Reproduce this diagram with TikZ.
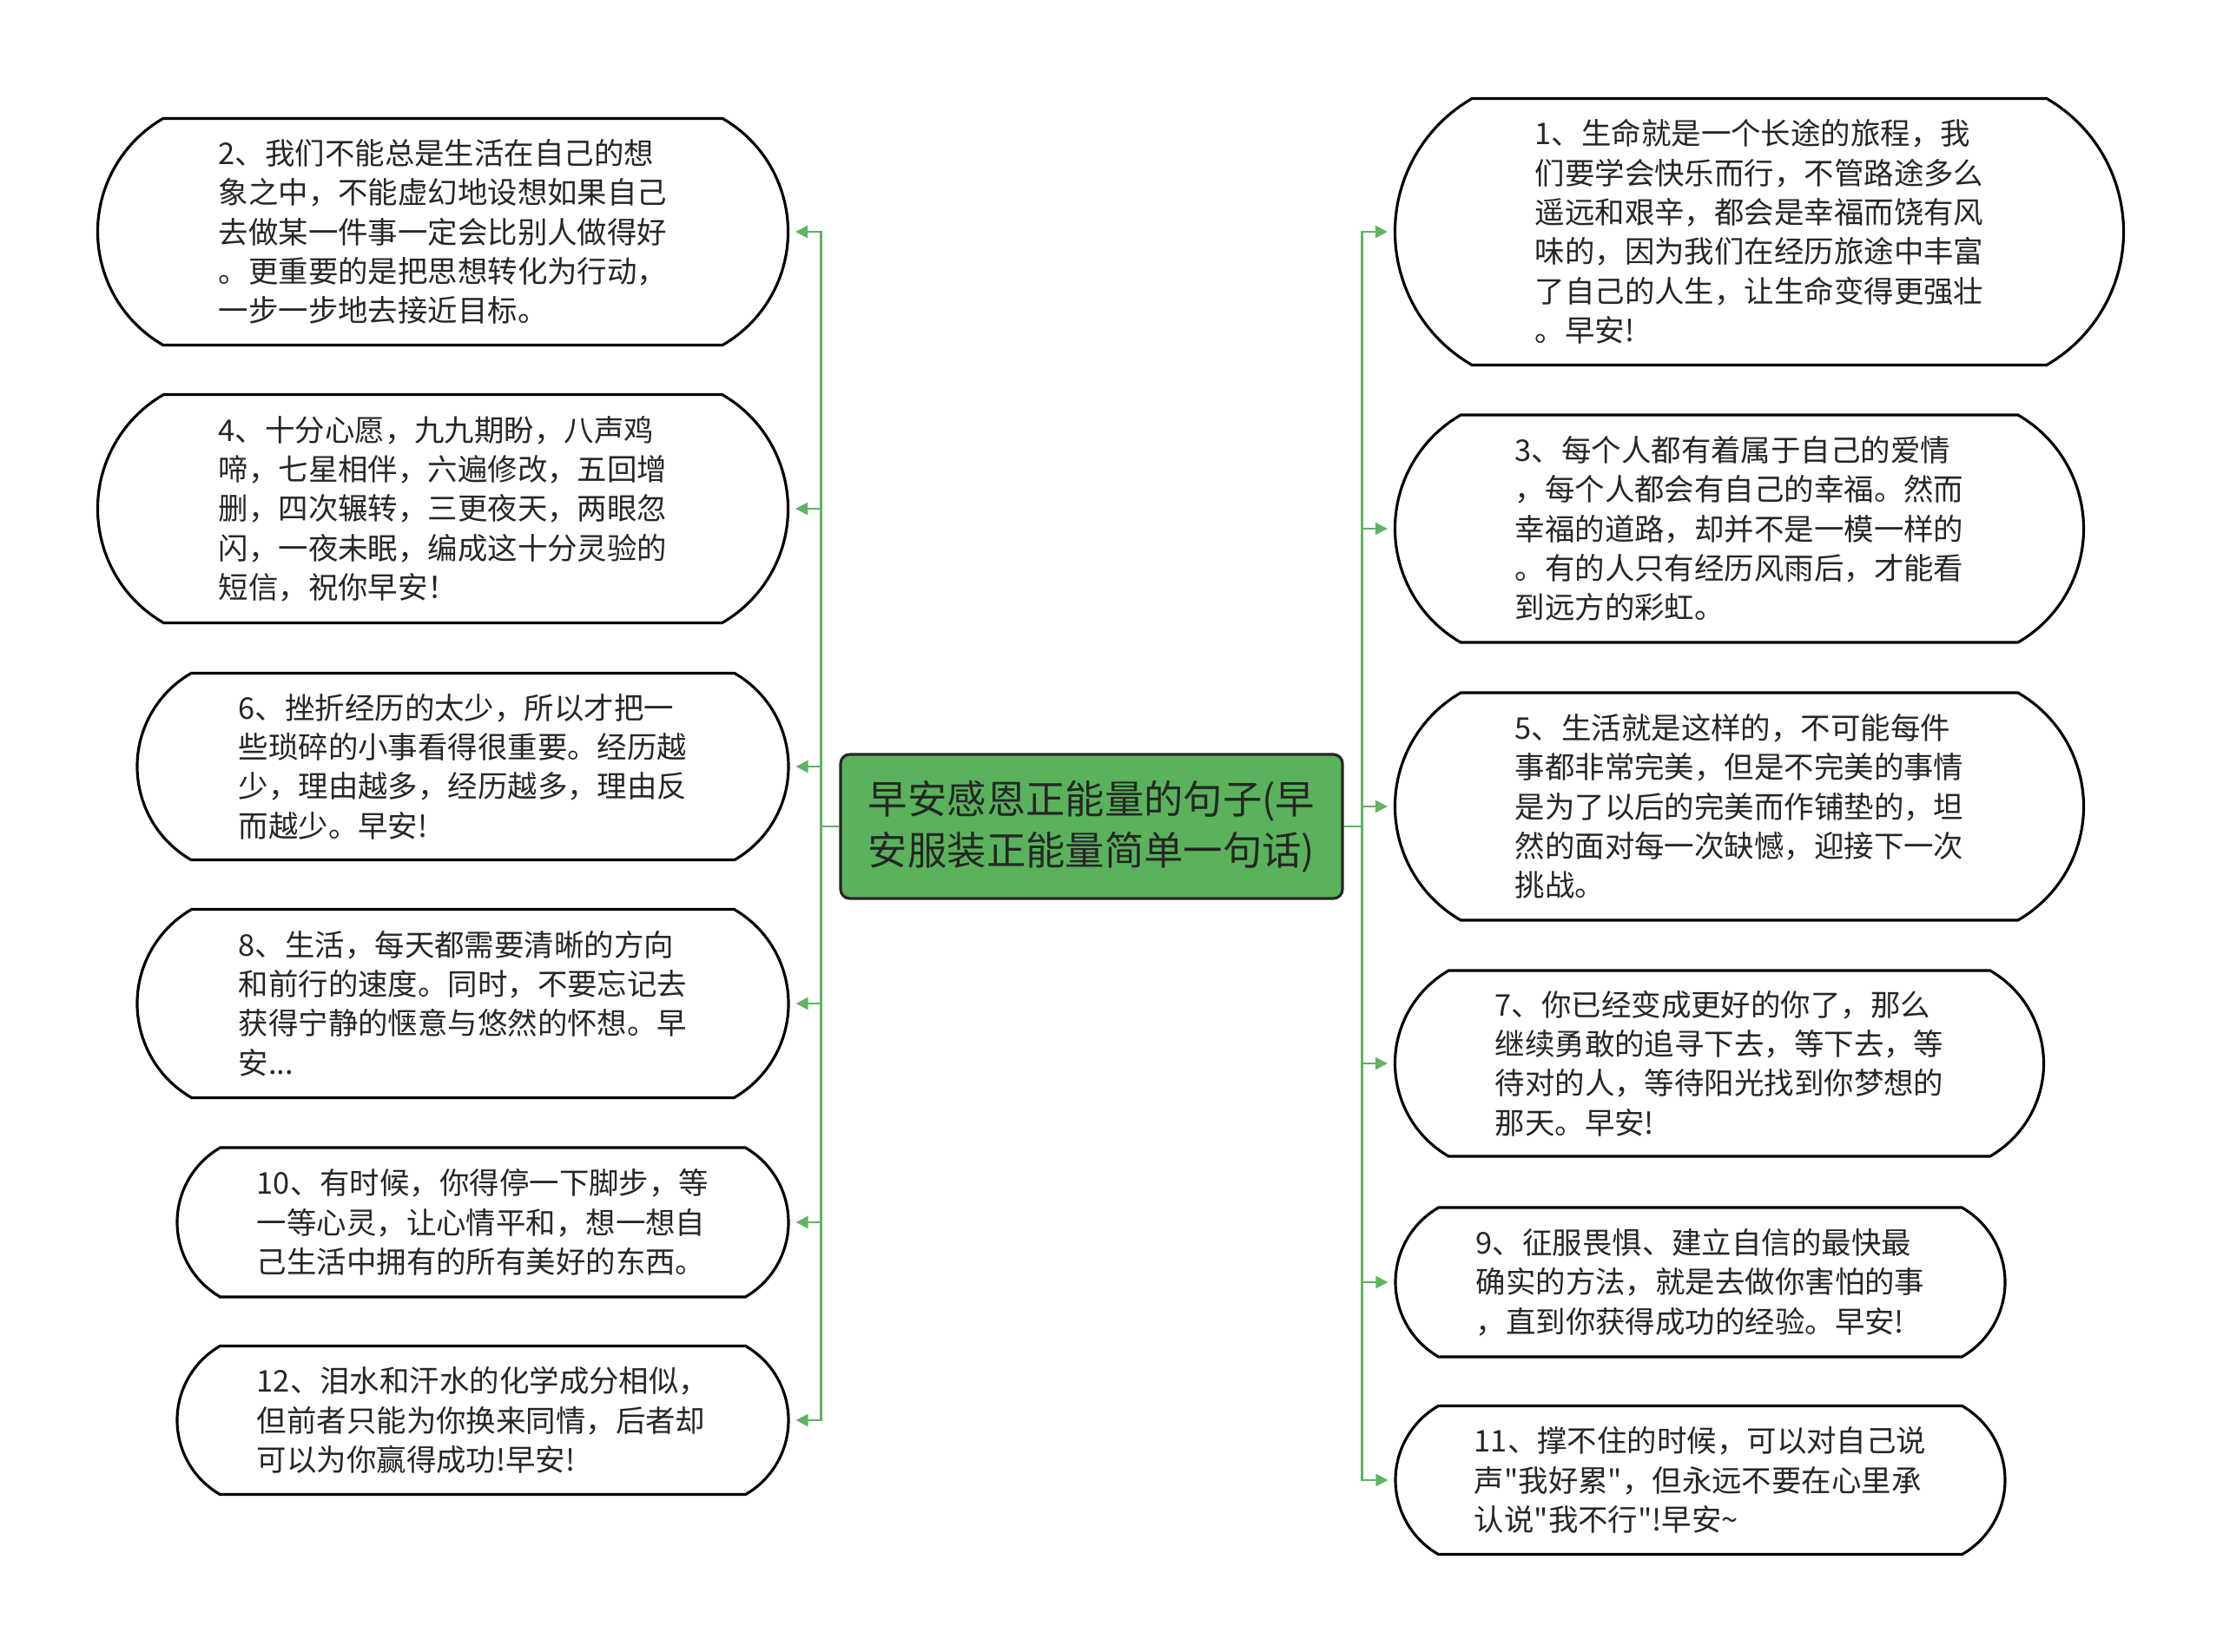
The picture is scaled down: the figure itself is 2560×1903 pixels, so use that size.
\documentclass[tikz,border=0pt]{standalone}
\usepackage{fontspec}
\setmainfont{Noto Sans CJK SC}[Ligatures=TeXOff]
\usepackage{xcolor}
\usepackage{tikz}
\usetikzlibrary{arrows.meta, shapes.misc}
\definecolor{mapgreen}{HTML}{5AB35C}
\definecolor{linkgreen}{HTML}{5FB462}
\definecolor{inkgray}{HTML}{262626}

\begin{document}
\begin{tikzpicture}[x=0.1mm, y=-0.1mm,
    bubble/.style={draw=black, line width=0.9pt, fill=white, rounded rectangle,
      rounded rectangle arc length=120, inner sep=0pt, align=left,
      text=inkgray, font=\fontsize{9.8}{12.9}\selectfont},
    hub/.style={draw=black!85, line width=0.9pt, fill=mapgreen, rounded corners=3pt,
      inner sep=0pt, align=center, text=inkgray,
      font=\fontsize{12.9}{16.7}\selectfont},
    branch/.style={draw=linkgreen, line width=0.7pt,
      -{Triangle[length=4pt,width=4pt]}, shorten >=2pt}]
    \fill[white] (0,0) rectangle (2560,1903);
    \useasboundingbox (0,0) rectangle (2560,1903);

    % centre
    \node[hub, minimum width=57.8mm, minimum height=16.6mm] (hub) at (1257,952)
      {早安感恩正能量的句子(早\\安服装正能量简单一句话)};

    % left side
    \node[bubble, minimum width=79.5mm, minimum height=26.1mm] (n2) at (510,267)
      {2、我们不能总是生活在自己的想\\象之中，不能虚幻地设想如果自己\\去做某一件事一定会比别人做得好\\。更重要的是把思想转化为行动，\\一步一步地去接近目标。};
    \node[bubble, minimum width=79.5mm, minimum height=26.3mm] (n4) at (510,586)
      {4、十分心愿，九九期盼，八声鸡\\啼，七星相伴，六遍修改，五回增\\删，四次辗转，三更夜天，两眼忽\\闪，一夜未眠，编成这十分灵验的\\短信，祝你早安！};
    \node[bubble, minimum width=75mm, minimum height=21.5mm] (n6) at (533,883)
      {6、挫折经历的太少，所以才把一\\些琐碎的小事看得很重要。经历越\\少，理由越多，经历越多，理由反\\而越少。早安!};
    \node[bubble, minimum width=75mm, minimum height=21.7mm] (n8) at (533,1156)
      {8、生活，每天都需要清晰的方向\\和前行的速度。同时，不要忘记去\\获得宁静的惬意与悠然的怀想。早\\安...};
    \node[bubble, minimum width=70.4mm, minimum height=17.2mm] (n10) at (556,1408)
      {10、有时候，你得停一下脚步，等\\一等心灵，让心情平和，想一想自\\己生活中拥有的所有美好的东西。};
    \node[bubble, minimum width=70.4mm, minimum height=17.1mm] (n12) at (556,1636)
      {12、泪水和汗水的化学成分相似，\\但前者只能为你换来同情，后者却\\可以为你赢得成功!早安!};

    % right side
    \node[bubble, minimum width=83.9mm, minimum height=30.7mm] (n1) at (2026,267)
      {1、生命就是一个长途的旅程，我\\们要学会快乐而行，不管路途多么\\遥远和艰辛，都会是幸福而饶有风\\味的，因为我们在经历旅途中丰富\\了自己的人生，让生命变得更强壮\\。早安!};
    \node[bubble, minimum width=79.3mm, minimum height=26.2mm] (n3) at (2003,609)
      {3、每个人都有着属于自己的爱情\\，每个人都会有自己的幸福。然而\\幸福的道路，却并不是一模一样的\\。有的人只有经历风雨后，才能看\\到远方的彩虹。};
    \node[bubble, minimum width=79.3mm, minimum height=26.2mm] (n5) at (2003,929)
      {5、生活就是这样的，不可能每件\\事都非常完美，但是不完美的事情\\是为了以后的完美而作铺垫的，坦\\然的面对每一次缺憾，迎接下一次\\挑战。};
    \node[bubble, minimum width=74.7mm, minimum height=21.4mm] (n7) at (1980,1225)
      {7、你已经变成更好的你了，那么\\继续勇敢的追寻下去，等下去，等\\待对的人，等待阳光找到你梦想的\\那天。早安!};
    \node[bubble, minimum width=70.2mm, minimum height=17.2mm] (n9) at (1958,1477)
      {9、征服畏惧、建立自信的最快最\\确实的方法，就是去做你害怕的事\\，直到你获得成功的经验。早安!};
    \node[bubble, minimum width=70.2mm, minimum height=17.1mm] (n11) at (1958,1705)
      {11、撑不住的时候，可以对自己说\\声"我好累"，但永远不要在心里承\\认说"我不行"!早安\textasciitilde};

    % connectors
    \draw[branch] (hub.west) -- ++(-21,0) |- (n2.east);
    \draw[branch] (hub.west) -- ++(-21,0) |- (n4.east);
    \draw[branch] (hub.west) -- ++(-21,0) |- (n6.east);
    \draw[branch] (hub.west) -- ++(-21,0) |- (n8.east);
    \draw[branch] (hub.west) -- ++(-21,0) |- (n10.east);
    \draw[branch] (hub.west) -- ++(-21,0) |- (n12.east);
    \draw[branch] (hub.east) -- ++(21,0) |- (n1.west);
    \draw[branch] (hub.east) -- ++(21,0) |- (n3.west);
    \draw[branch] (hub.east) -- ++(21,0) |- (n5.west);
    \draw[branch] (hub.east) -- ++(21,0) |- (n7.west);
    \draw[branch] (hub.east) -- ++(21,0) |- (n9.west);
    \draw[branch] (hub.east) -- ++(21,0) |- (n11.west);
  \end{tikzpicture}
\end{document}
